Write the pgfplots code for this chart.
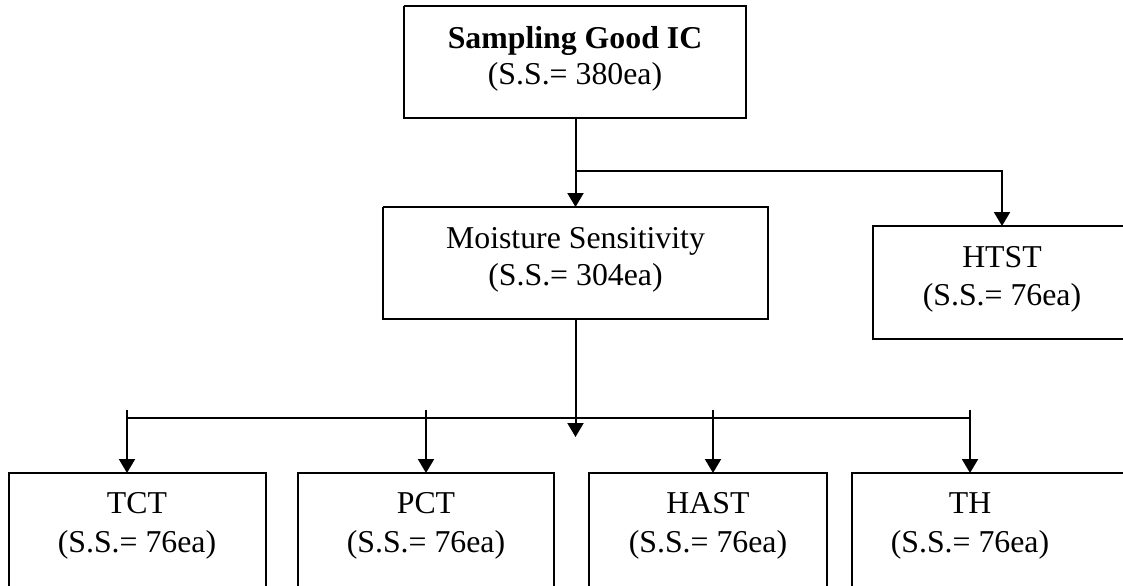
\documentclass[border=0pt]{standalone}
\usepackage{fontspec}
\setmainfont{Liberation Serif}
\usepackage{pgfplots}
\pgfplotsset{compat=1.18}
\usetikzlibrary{arrows.meta}
\begin{document}
\begin{tikzpicture}
\begin{axis}[
  scale only axis, width=561.5pt, height=292.5pt,
  xmin=0, xmax=1123, ymin=0, ymax=585, y dir=reverse,
  hide axis, clip=true,
]
\tikzset{ln/.style={black, solid, line width=1pt, mark=none},
  arr/.style={ln, -{Triangle[width=8pt,length=7pt]}}}
\addplot[draw=none, mark=none] coordinates {(0,0) (1123,585)};
% boxes
\addplot[ln] coordinates {(404,6) (746,6) (746,118) (404,118) (404,6)};
\addplot[ln] coordinates {(383,207) (768,207) (768,319) (383,319) (383,207)};
\addplot[ln] coordinates {(1130,226) (873,226) (873,339) (1130,339)};
\addplot[ln] coordinates {(9,600) (9,473) (266,473) (266,600)};
\addplot[ln] coordinates {(298,600) (298,473) (554,473) (554,600)};
\addplot[ln] coordinates {(589,600) (589,473) (827,473) (827,600)};
\addplot[ln] coordinates {(852,600) (852,473) (1130,473)};
% connectors
\addplot[arr] coordinates {(575.5,118) (575.5,207)};
\addplot[arr] coordinates {(575.5,171) (1002,171) (1002,226)};
\addplot[arr] coordinates {(575.5,319) (575.5,437)};
\addplot[ln] coordinates {(127,418) (970,418)};
\addplot[arr] coordinates {(127,410) (127,473)};
\addplot[arr] coordinates {(426,410) (426,473)};
\addplot[arr] coordinates {(713,410) (713,473)};
\addplot[arr] coordinates {(970,410) (970,473)};
% texts
\tikzset{t/.style={anchor=base, inner sep=0pt, font=\fontsize{15.9}{19}\selectfont}}
\node[t] at (axis cs:575,48) {\textbf{Sampling Good IC}};
\node[t] at (axis cs:575,84) {(S.S.= 380ea)};
\node[t] at (axis cs:575.5,248) {Moisture Sensitivity};
\node[t] at (axis cs:575.5,285) {(S.S.= 304ea)};
\node[t] at (axis cs:1002,267) {HTST};
\node[t] at (axis cs:1002,305) {(S.S.= 76ea)};
\node[t] at (axis cs:137,513) {TCT};
\node[t] at (axis cs:137,552) {(S.S.= 76ea)};
\node[t] at (axis cs:426,513) {PCT};
\node[t] at (axis cs:426,552) {(S.S.= 76ea)};
\node[t] at (axis cs:708,513) {HAST};
\node[t] at (axis cs:708,552) {(S.S.= 76ea)};
\node[t] at (axis cs:970,513) {TH};
\node[t] at (axis cs:970,552) {(S.S.= 76ea)};
\end{axis}
\end{tikzpicture}
\end{document}
